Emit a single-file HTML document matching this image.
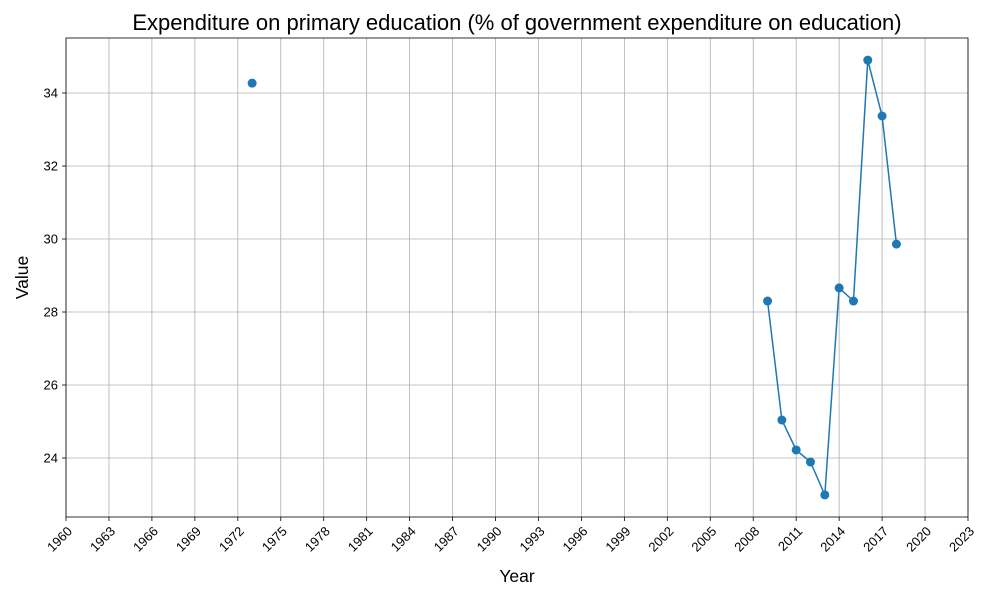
<!DOCTYPE html>
<html><head><meta charset="utf-8"><style>
body{margin:0;background:#fff;font-family:"Liberation Sans",sans-serif}
</style></head><body>
<svg id="chart" width="1000" height="600" xmlns="http://www.w3.org/2000/svg" font-family="Liberation Sans, sans-serif"></svg>
<script>
const years=[1973,2009,2010,2011,2012,2013,2014,2015,2016,2017,2018];
const values=[34.27,28.3,25.04,24.22,23.89,22.99,28.66,28.3,34.9,33.37,29.86];
const xTicks=[1960,1963,1966,1969,1972,1975,1978,1981,1984,1987,1990,1993,1996,1999,2002,2005,2008,2011,2014,2017,2020,2023];
const yTicks=[24,26,28,30,32,34];
const L=66,R=968,T=38,B=517,xMin=1960,xMax=2023,yMin=22.384,yMax=35.507;
const sx=v=>L+(v-xMin)/(xMax-xMin)*(R-L);
const sy=v=>B-(v-yMin)/(yMax-yMin)*(B-T);
const svg=document.getElementById('chart');
const NS='http://www.w3.org/2000/svg';
function mk(tag,attrs,parent){const e=document.createElementNS(NS,tag);for(const k in attrs)e.setAttribute(k,attrs[k]);(parent||svg).appendChild(e);return e;}
const grid=mk('g',{});


xTicks.forEach(t=>{const x=sx(t);
 mk('line',{x1:x,x2:x,y1:T,y2:B,stroke:'#b0b0b0','stroke-width':0.8},grid);
 mk('line',{x1:x,x2:x,y1:B,y2:B+4,stroke:'#000','stroke-width':0.8});
 const ax=x+7, ay=B+15;
 const tx=mk('text',{x:ax,y:ay,'font-size':13,'text-anchor':'end',transform:`rotate(-45 ${ax} ${ay})`});
 
 
 tx.textContent=t;});
yTicks.forEach(t=>{const y=sy(t);
 mk('line',{x1:L,x2:R,y1:y,y2:y,stroke:'#b0b0b0','stroke-width':0.8},grid);
 mk('line',{x1:L-4,x2:L,y1:y,y2:y,stroke:'#000','stroke-width':0.8});
 const tx=mk('text',{x:L-8,y:y+4.5,'font-size':13,'text-anchor':'end'});
 
 
 tx.textContent=t;});
const frame=mk('rect',{x:L,y:T,width:R-L,height:B-T,fill:'none',stroke:'#000','stroke-width':0.8});


let d='';
for(let i=0;i<years.length;i++){
 const cont=i>0&&years[i]-years[i-1]===1;
 d+=(cont?'L':'M')+sx(years[i])+' '+sy(values[i])+' ';
}
const line=mk('path',{d:d,fill:'none',stroke:'#1f77b4','stroke-width':1.5});


years.forEach((yr,i)=>{
 const c=mk('circle',{cx:sx(yr),cy:sy(values[i]),r:4.5,fill:'#1f77b4'});
 
 
});
const title=mk('text',{x:(L+R)/2,y:30,'font-size':22,'text-anchor':'middle'});


title.textContent='Expenditure on primary education (% of government expenditure on education)';
const xl=mk('text',{x:(L+R)/2,y:582,'font-size':17.5,'text-anchor':'middle'});


xl.textContent='Year';
const yl=mk('text',{x:28,y:(T+B)/2,'font-size':17.5,'text-anchor':'middle',transform:`rotate(-90 28 ${(T+B)/2})`});


yl.textContent='Value';
</script>
</body></html>
